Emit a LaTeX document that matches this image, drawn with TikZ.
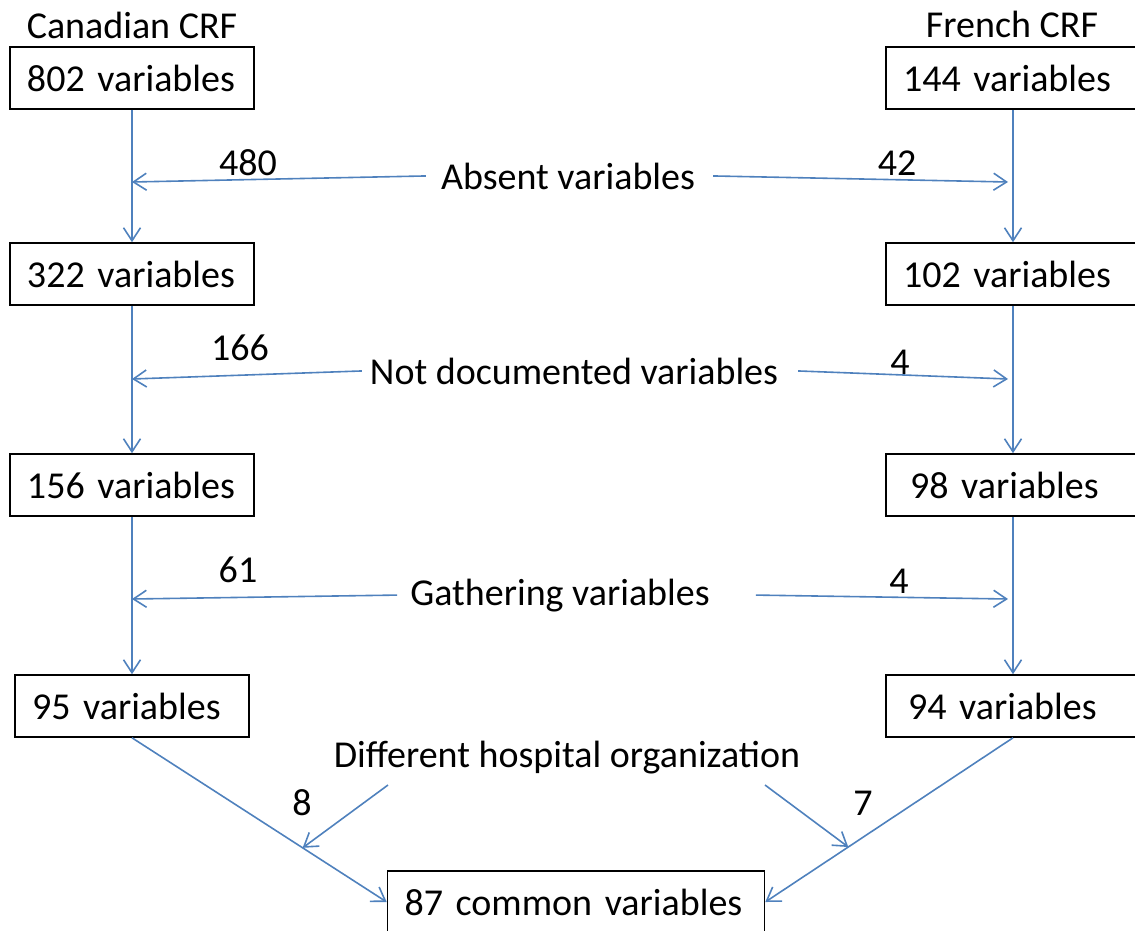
\documentclass[tikz,border=0pt]{standalone}
\usepackage{fontspec}
\setmainfont{Carlito}
\usetikzlibrary{arrows.meta, calc}
\definecolor{crInk}{HTML}{000000}
\definecolor{crBlue}{HTML}{4F81BD}
\newcommand{\crfsize}{\fontsize{38}{46}\selectfont}
\tikzset{
  crfbox/.style={
    draw=crInk, line width=1.6pt, inner xsep=17pt, inner ysep=0pt,
    align=left, text width=#1, minimum height=62pt,
    font=\crfsize, text=crInk
  },
  flow/.style={-{Straight Barb[length=13pt, width=17pt]}, line width=1.6pt, draw=crBlue},
  cnt/.style={anchor=base, font=\crfsize, text=crInk, inner sep=0pt},
}

\begin{document}
\begin{tikzpicture}[x=1pt, y=-1pt]
  \useasboundingbox (0,0) rectangle (1135,930);
  % column titles
  \node[cnt] (canada) at (132,38) {Canadian CRF};
  \node[cnt] (france) at (1012,37) {French CRF};
  % canadian column
  \node[crfbox=210pt] (c802) at (132,78)  {802 variables};
  \node[crfbox=210pt] (c322) at (132,274) {322 variables};
  \node[crfbox=210pt] (c156) at (132,485) {156 variables};
  \node[crfbox=200pt] (c95)  at (132,706) {95 variables};
  % french column
  \node[crfbox=220pt] (f144) at (1013,78)  {144 variables};
  \node[crfbox=220pt] (f102) at (1013,274) {102 variables};
  \node[crfbox=220pt] (f98)  at (1013,485) {\hspace*{7pt}98 variables};
  \node[crfbox=220pt] (f94)  at (1013,706) {\hspace*{5pt}94 variables};
  % result
  \node[crfbox=343pt] (c87) at (576,902) {87 common variables};

  % reasons
  \node[cnt] (absent) at (568,189) {Absent variables};
  \node[cnt] (notdoc) at (574,384) {Not documented variables};
  \node[cnt] (gather) at (560,605) {Gathering variables};
  \node[cnt] (hosp)   at (567,767) {Different hospital organization};

  % counts
  \node[cnt] (n480) at (248,175) {480};
  \node[cnt] (n42)  at (897,175) {42};
  \node[cnt] (n166) at (240,360) {166};
  \node[cnt] (n4a)  at (900,374) {4};
  \node[cnt] (n61)  at (238,582) {61};
  \node[cnt] (n4b)  at (899,593) {4};
  \node[cnt] (n8)   at (302,815) {8};
  \node[cnt] (n7)   at (863,815) {7};

  % ends on the columns
  \coordinate (l1) at (132,182);  \coordinate (r1) at (1008,182);
  \coordinate (l2) at (132,379);  \coordinate (r2) at (1008,379);
  \coordinate (l3) at (132,599);  \coordinate (r3) at (1008,599);
  \coordinate (hs8) at (388,785); \coordinate (hs7) at (765,785);

  % column flow
  \foreach \a/\b in {c802/c322, c322/c156, c156/c95, f144/f102, f102/f98, f98/f94}
    \draw[flow] (\a.south) -- (\b.north);
  \draw[flow] (c95.south) -- coordinate[pos=0.67] (m8) (c87.west);
  \draw[flow] (f94.south) -- coordinate[pos=0.665] (m7) (c87.east);

  % removed variables
  \draw[flow] ([xshift=-15pt]absent.west) -- (l1);
  \draw[flow] ([xshift=18pt]absent.east) -- (r1);
  \draw[flow] ([xshift=-8pt]notdoc.west) -- (l2);
  \draw[flow] ([xshift=20pt]notdoc.east) -- (r2);
  \draw[flow] ([xshift=-13pt]gather.west) -- (l3);
  \draw[flow] ([xshift=46pt]gather.east) -- (r3);
  \draw[flow] (hs8) -- (m8);
  \draw[flow] (hs7) -- (m7);
\end{tikzpicture}
\end{document}
